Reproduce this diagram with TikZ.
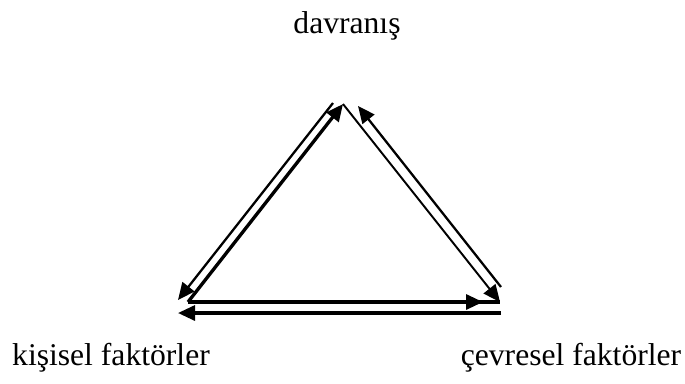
\documentclass[tikz,border=0pt]{standalone}
\usepackage{fontspec}
\setmainfont{Liberation Serif}
\usetikzlibrary{arrows.meta, positioning}
\tikzset{
  every picture/.style={line width=1.3pt},
  arrow/.style={-{Triangle[length=3.4mm, width=3mm]}, draw=black},
  label/.style={font=\fontsize{18}{21}\selectfont, anchor=base, inner sep=0pt},
}
\begin{document}
\begin{tikzpicture}[x=0.02cm, y=-0.02cm]
  \useasboundingbox (0,0) rectangle (685,383);
  % corners of the triangle
  \coordinate (top) at (343,104);
  \coordinate (left) at (188,302);
  \coordinate (right) at (500,302);
  \coordinate (mid) at (483,302);
  % outer ends
  \coordinate (lo1) at (333,103);  \coordinate (lo2) at (178,300);
  \coordinate (ro1) at (501,287);  \coordinate (ro2) at (358,106);
  \coordinate (bo1) at (501,313);  \coordinate (bo2) at (178,313);
  % labels
  \node[label] (beh) at (347,33) {davranış};
  \node[label] (pers) at (111,365) {kişisel faktörler};
  \node[label] (env) at (571,365) {çevresel faktörler};
  % inner triangle
  \draw[arrow, line width=1.9pt] (left) -- (top);
  \draw[arrow, line width=1.1pt] (top) -- (right);
  \draw[line width=1.8pt] (left) -- (right);
  \draw[arrow, line width=1.8pt] (left) -- (mid);
  % outer arrows
  \draw[arrow] (lo1) -- (lo2);
  \draw[arrow] (ro1) -- (ro2);
  \draw[arrow, line width=1.8pt] (bo1) -- (bo2);
\end{tikzpicture}
\end{document}
